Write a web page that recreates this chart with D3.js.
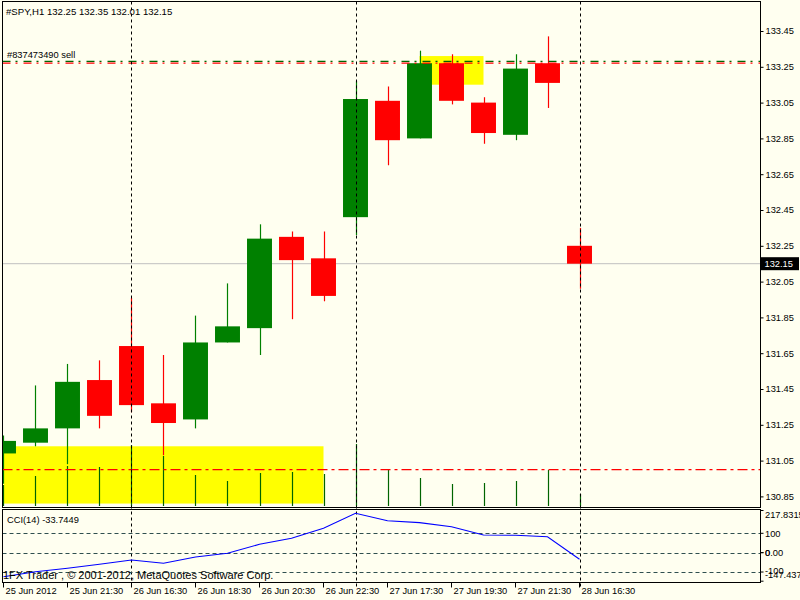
<!DOCTYPE html>
<html><head><meta charset="utf-8">
<script src="https://cdn.jsdelivr.net/npm/d3@7"></script>
<style>
html,body{margin:0;padding:0;background:#fffff0;}
svg{display:block;font-family:"Liberation Sans",Arial,sans-serif;}
</style></head>
<body>
<svg id="c" width="800" height="600"></svg>
<script>
// ---- data ----
const times = ["2012.06.25 19:30","2012.06.25 20:30","2012.06.25 21:30","2012.06.25 22:30",
  "2012.06.26 16:30","2012.06.26 17:30","2012.06.26 18:30","2012.06.26 19:30","2012.06.26 20:30","2012.06.26 21:30","2012.06.26 22:30",
  "2012.06.27 16:30","2012.06.27 17:30","2012.06.27 18:30","2012.06.27 19:30","2012.06.27 20:30","2012.06.27 21:30","2012.06.27 22:30",
  "2012.06.28 16:30"];
const open  = [131.09,131.15,131.23,131.50,131.69,131.37,131.28,131.71,131.79,132.30,132.18,132.41,133.06,132.85,133.27,133.05,132.87,133.27,132.25];
const high  = [131.19,131.47,131.59,131.61,131.96,131.64,131.86,132.04,132.37,132.33,132.33,133.17,133.14,133.34,133.32,133.08,133.32,133.42,132.35];
const low   = [130.92,131.13,131.03,131.23,131.32,131.08,131.23,131.71,131.64,131.84,131.94,132.31,132.70,132.85,133.04,132.82,132.84,133.02,132.01];
const close = [131.16,131.23,131.49,131.30,131.36,131.26,131.71,131.80,132.29,132.17,131.97,133.07,132.84,133.27,133.06,132.88,133.24,133.16,132.15];
const volume = [2100,3000,4000,3900,6100,5000,3100,2500,3300,3400,3200,6200,3600,2800,2200,2300,2500,3600,1200];
const cci = [-124.3,-98.4,-80.9,-60.2,-38.0,-55.0,-22.5,-3.4,43.2,74.2,125.8,203.4,164.6,155.0,134.0,91.0,89.7,82.4,-33.7449];
const priceTicks = [133.45,133.25,133.05,132.85,132.65,132.45,132.25,132.05,131.85,131.65,131.45,131.25,131.05,130.85];
const xTickTimes = ["2012.06.25 19:30","2012.06.25 21:30","2012.06.26 16:30","2012.06.26 18:30","2012.06.26 20:30","2012.06.26 22:30","2012.06.27 17:30","2012.06.27 19:30","2012.06.27 21:30","2012.06.28 16:30"];
const xTickLabels = ["25 Jun 2012","25 Jun 21:30","26 Jun 16:30","26 Jun 18:30","26 Jun 20:30","26 Jun 22:30","27 Jun 17:30","27 Jun 19:30","27 Jun 21:30","28 Jun 16:30"];
const separatorTimes = ["2012.06.26 16:30","2012.06.27 16:30","2012.06.28 16:30"];
const cciLevels = [100,0,-100];
const cciAxisLabels = ["217.8315","100","0.00","0","-100","-147.437"];
const cciAxisValues = [217.8315,100,0,0,-100,-147.437];
const rectTimes = [["2012.06.25 19:30","2012.06.26 22:30"],["2012.06.27 18:30","2012.06.27 20:30"]];
const rectPrices = [[130.81,131.13],[133.15,133.31]];
const orderOpen = 133.28, orderSL = 133.27, orderTP = 131.00, lastPrice = 132.15;
const symbolTitle = "#SPY,H1  132.25 132.35 132.01 132.15";
const orderLabel = "#837473490 sell";
const cciTitle = "CCI(14) -33.7449";
const copyright = "1FX Trader , \u00A9 2001-2012, MetaQuotes Software Corp.";

// ---- layout ----
const L = 2.5, R = 760.5, mainTop = 1.5, mainBot = 507.5, cciTop = 509.5, cciBot = 582.5;
const svg = d3.select("#c");
const bull = "#008000", bear = "#ff0000";

const x = d3.scaleBand().domain(times).range([-12.5, 595.5]).paddingInner(0.22).paddingOuter(0.11);
const cx = t => x(t) + x.bandwidth()/2;
const y = d3.scaleLinear().domain([130.85, 133.45]).range([496.4, 31]);
const yc = d3.scaleLinear().domain([-147.437, 217.8315]).range([581.2, 510.5]);
const yv = d3.scaleLinear().domain([0, 6200]).range([506, 444]);

svg.append("rect").attr("width",800).attr("height",600).attr("fill","#fffff0");
const defs = svg.append("defs");
defs.append("clipPath").attr("id","mainClip").append("rect")
  .attr("x",L+0.5).attr("y",mainTop+0.5).attr("width",R-L-1).attr("height",mainBot-mainTop-1);
defs.append("clipPath").attr("id","cciClip").append("rect")
  .attr("x",L+0.5).attr("y",cciTop+0.5).attr("width",R-L-1).attr("height",cciBot-cciTop-1);

const main = svg.append("g").attr("clip-path","url(#mainClip)");

// rectangles (objects)
main.selectAll("rect.obj").data(rectTimes).join("rect").attr("class","obj")
  .attr("x",(d)=>cx(d[0])).attr("width",(d)=>cx(d[1])-cx(d[0]))
  .attr("y",(d,i)=>y(rectPrices[i][1])).attr("height",(d,i)=>y(rectPrices[i][0])-y(rectPrices[i][1]))
  .attr("fill","#ffff00");

// volumes
main.selectAll("line.vol").data(times).join("line").attr("class","vol")
  .attr("x1",d=>Math.round(cx(d))+0.5).attr("x2",d=>Math.round(cx(d))+0.5)
  .attr("y1",yv(0)).attr("y2",(d,i)=>yv(volume[i]))
  .attr("stroke","#006400").attr("stroke-width",1.2);

// current price line
main.append("line").attr("x1",L).attr("x2",R).attr("y1",y(lastPrice)).attr("y2",y(lastPrice))
  .attr("stroke","#c0c0c0").attr("stroke-width",1);

// separators
svg.selectAll("line.sep").data(separatorTimes).join("line").attr("class","sep")
  .attr("x1",d=>Math.round(cx(d))+0.5).attr("x2",d=>Math.round(cx(d))+0.5)
  .attr("y1",mainTop).attr("y2",cciBot+5)
  .attr("stroke","#000").attr("stroke-dasharray","3,3");

// candles
const cg = main.selectAll("g.candle").data(times).join("g").attr("class","candle");
cg.append("line")
  .attr("x1",d=>Math.round(cx(d))+0.5).attr("x2",d=>Math.round(cx(d))+0.5)
  .attr("y1",(d,i)=>y(high[i])).attr("y2",(d,i)=>y(low[i]))
  .attr("stroke",(d,i)=>close[i]>=open[i]?bull:bear).attr("stroke-width",1.2);
cg.append("rect")
  .attr("x",d=>x(d)).attr("width",x.bandwidth())
  .attr("y",(d,i)=>y(Math.max(open[i],close[i])))
  .attr("height",(d,i)=>Math.max(1,Math.abs(y(open[i])-y(close[i]))))
  .attr("fill",(d,i)=>close[i]>=open[i]?bull:bear);

// order lines
main.append("line").attr("x1",L).attr("x2",R).attr("y1",y(orderOpen)).attr("y2",y(orderOpen))
  .attr("stroke","#006400").attr("stroke-dasharray","8,5,2,6").attr("stroke-width",1.2);
main.append("line").attr("x1",L).attr("x2",R).attr("y1",y(orderSL)).attr("y2",y(orderSL))
  .attr("stroke",bear).attr("stroke-dasharray","8,5,2,6").attr("stroke-width",1.2);
main.append("line").attr("x1",L).attr("x2",R).attr("y1",y(orderTP)).attr("y2",y(orderTP))
  .attr("stroke",bear).attr("stroke-dasharray","10,4,3,4").attr("stroke-width",1.2);

// texts main
const fs = "9.3px";
svg.append("text").attr("x",6).attr("y",14.5).attr("font-size","9.6px").text(symbolTitle);
svg.append("text").attr("x",7).attr("y",57.5).attr("font-size",fs).text(orderLabel);

// borders
svg.append("rect").attr("x",L).attr("y",mainTop).attr("width",R-L).attr("height",mainBot-mainTop)
  .attr("fill","none").attr("stroke","#000");
svg.append("rect").attr("x",L).attr("y",cciTop).attr("width",R-L).attr("height",cciBot-cciTop)
  .attr("fill","none").attr("stroke","#000");

// price axis
const ya = d3.axisRight(y).tickValues(priceTicks).tickSize(3).tickPadding(2).tickFormat(d3.format(".2f"));
const yag = svg.append("g").attr("transform",`translate(${R},0)`).call(ya);
yag.select(".domain").remove();
yag.selectAll("text").attr("font-size",fs).attr("font-family","Liberation Sans, Arial, sans-serif").attr("fill","#000");
yag.selectAll("line").attr("stroke","#000");

// last price box
svg.append("rect").attr("x",R+0.5).attr("y",y(lastPrice)-6.5).attr("width",38).attr("height",13).attr("fill","#000");
svg.append("text").attr("x",R+4).attr("y",y(lastPrice)+3.5).attr("font-size",fs).attr("fill","#fff").text(d3.format(".2f")(lastPrice));

// CCI panel
const cgp = svg.append("g").attr("clip-path","url(#cciClip)");
cgp.selectAll("line.lvl").data(cciLevels).join("line").attr("class","lvl")
  .attr("x1",L).attr("x2",R).attr("y1",d=>Math.round(yc(d))+0.5).attr("y2",d=>Math.round(yc(d))+0.5)
  .attr("stroke","#2f4f4f").attr("stroke-dasharray","4,3");
cgp.append("path").datum(times)
  .attr("d",d3.line().x(d=>cx(d)).y((d,i)=>yc(cci[i])))
  .attr("fill","none").attr("stroke","#0000ff").attr("stroke-width",1.1);
svg.append("text").attr("x",7).attr("y",522.5).attr("font-size",fs).text(cciTitle);
svg.append("text").attr("x",3).attr("y",579).attr("font-size","11px").text(copyright);

// CCI axis labels
const cciLabY = [517.5,536.5,555.5,555.5,573.5,578];
svg.selectAll("text.ccil").data(cciAxisLabels).join("text").attr("class","ccil")
  .attr("x",765).attr("y",(d,i)=>cciLabY[i]).attr("font-size",fs).text(d=>d);
svg.selectAll("line.ccit").data(cciAxisValues).join("line").attr("class","ccit")
  .attr("x1",R).attr("x2",R+3).attr("y1",d=>yc(d)).attr("y2",d=>yc(d)).attr("stroke","#000");

// x axis
const xa = d3.axisBottom(x).tickValues(xTickTimes).tickSize(5).tickPadding(0)
  .tickFormat((d)=>xTickLabels[xTickTimes.indexOf(d)]);
const xag = svg.append("g").attr("transform",`translate(0,${cciBot})`).call(xa);
xag.select(".domain").remove();
xag.selectAll("line").attr("stroke","#000");
xag.selectAll("text").attr("text-anchor","start").attr("x",2).attr("y",0).attr("dy","11.5px")
  .attr("font-size",fs).attr("font-family","Liberation Sans, Arial, sans-serif").attr("fill","#000");
</script>
</body></html>
